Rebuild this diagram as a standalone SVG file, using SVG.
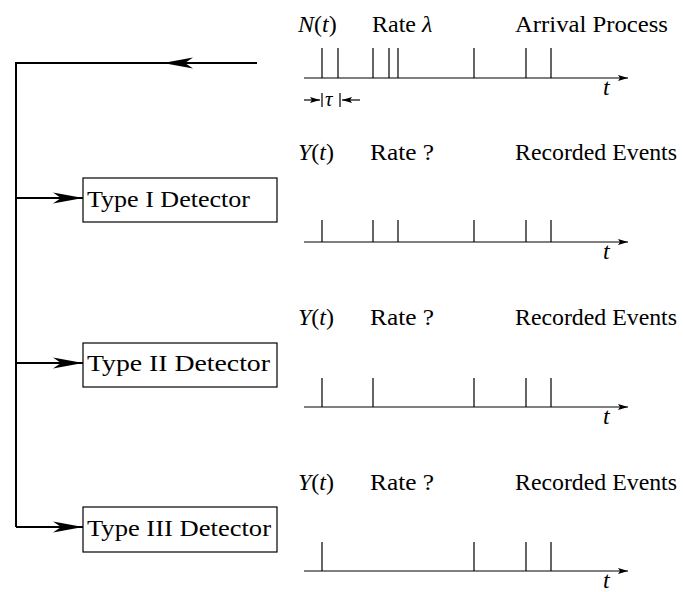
<svg xmlns="http://www.w3.org/2000/svg" width="683" height="592" viewBox="0 0 683 592">
<style>
.tx{font-family:"Liberation Serif","Times New Roman",serif;font-size:24px;fill:#000}
.it{font-style:italic}
.conn{stroke:#000;stroke-width:2;fill:none}
.box{stroke:#000;stroke-width:1.2;fill:#fff}
.ax{stroke:#000;stroke-width:1.2;fill:none}
.sp{stroke:#000;stroke-width:1.2}
</style>
<defs>
<marker id="big" viewBox="0 0 30 12" refX="30" refY="6" markerWidth="30" markerHeight="12" markerUnits="userSpaceOnUse" orient="auto">
<path d="M30,6 L0,0.5 L8,6 L0,11.5 Z" fill="#000"/>
</marker>
<marker id="small" viewBox="0 0 10 6" refX="10" refY="3" markerWidth="10" markerHeight="6" markerUnits="userSpaceOnUse" orient="auto">
<path d="M10,3 L0,0 L2,3 L0,6 Z" fill="#000"/>
</marker>
</defs>

<g id="connectors">
<path class="conn" d="M257,63 L163,63" marker-end="url(#big)"/>
<path class="conn" d="M163,63 L16,63 L16,527"/>
<path class="conn" d="M16,198 L83,198" marker-end="url(#big)"/>
<path class="conn" d="M16,363 L83,363" marker-end="url(#big)"/>
<path class="conn" d="M16,527 L83,527" marker-end="url(#big)"/>
</g>

<g id="arrival">
<text class="tx" x="298" y="32"><tspan class="it">N</tspan>(<tspan class="it">t</tspan>)</text>
<text class="tx" x="372" y="32">Rate <tspan class="it">λ</tspan></text>
<text class="tx" x="515" y="32" textLength="153" lengthAdjust="spacingAndGlyphs">Arrival Process</text>
<path class="ax" d="M304,78 L628,78" marker-end="url(#small)"/>
<path class="sp" d="M322,48V78M338,48V78M373,48V78M389,48V78M398,48V78M474,48V78M526,48V78M551,48V78"/>
<text class="tx it" x="603" y="95">t</text>
<path class="ax" d="M304,100 L320,100" marker-end="url(#small)"/>
<path class="ax" d="M360,100 L342,100" marker-end="url(#small)"/>
<path class="sp" d="M322,93V107M340,93V107"/>
<text class="tx it" x="325" y="106" style="font-size:21px">τ</text>
</g>

<g id="type1">
<rect class="box" x="83" y="178" width="194" height="44"/>
<text class="tx" x="87" y="207" textLength="163" lengthAdjust="spacingAndGlyphs">Type I Detector</text>
</g>
<g id="events1">
<text class="tx" x="298" y="160"><tspan class="it">Y</tspan>(<tspan class="it">t</tspan>)</text>
<text class="tx" x="370" y="160" textLength="64" lengthAdjust="spacingAndGlyphs">Rate ?</text>
<text class="tx" x="515" y="160" textLength="162" lengthAdjust="spacingAndGlyphs">Recorded Events</text>
<path class="ax" d="M304,242 L628,242" marker-end="url(#small)"/>
<path class="sp" d="M322,220V242M373,220V242M398,220V242M474,220V242M526,220V242M551,220V242"/>
<text class="tx it" x="603" y="259">t</text>
</g>

<g id="type2">
<rect class="box" x="83" y="343" width="194" height="44"/>
<text class="tx" x="87" y="371" textLength="183" lengthAdjust="spacingAndGlyphs">Type II Detector</text>
</g>
<g id="events2">
<text class="tx" x="298" y="325"><tspan class="it">Y</tspan>(<tspan class="it">t</tspan>)</text>
<text class="tx" x="370" y="325" textLength="64" lengthAdjust="spacingAndGlyphs">Rate ?</text>
<text class="tx" x="515" y="325" textLength="162" lengthAdjust="spacingAndGlyphs">Recorded Events</text>
<path class="ax" d="M304,407 L628,407" marker-end="url(#small)"/>
<path class="sp" d="M322,378V407M373,378V407M474,378V407M526,378V407M551,378V407"/>
<text class="tx it" x="603" y="424">t</text>
</g>

<g id="type3">
<rect class="box" x="83" y="507" width="194" height="45"/>
<text class="tx" x="87" y="536" textLength="184" lengthAdjust="spacingAndGlyphs">Type III Detector</text>
</g>
<g id="events3">
<text class="tx" x="298" y="490"><tspan class="it">Y</tspan>(<tspan class="it">t</tspan>)</text>
<text class="tx" x="370" y="490" textLength="64" lengthAdjust="spacingAndGlyphs">Rate ?</text>
<text class="tx" x="515" y="490" textLength="162" lengthAdjust="spacingAndGlyphs">Recorded Events</text>
<path class="ax" d="M304,571 L628,571" marker-end="url(#small)"/>
<path class="sp" d="M322,542V571M474,542V571M526,542V571M551,542V571"/>
<text class="tx it" x="603" y="588">t</text>
</g>
</svg>
